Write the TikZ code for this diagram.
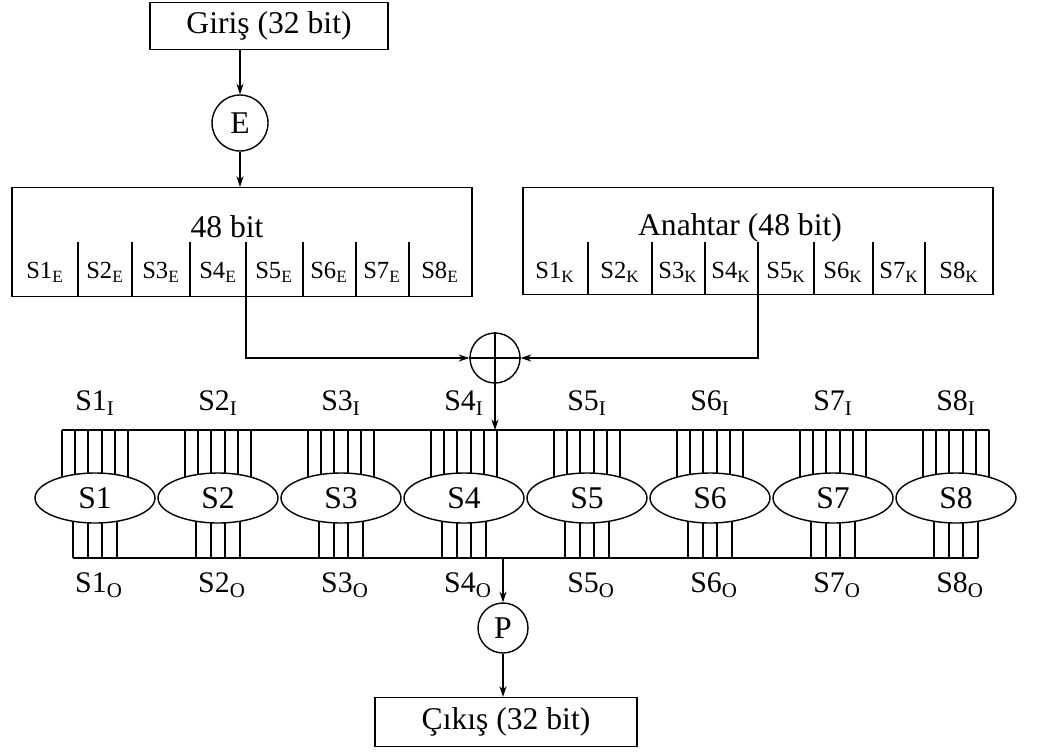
\documentclass[tikz,border=0pt]{standalone}
\usepackage{fontspec}
\setmainfont{Liberation Serif}
\usetikzlibrary{shapes.geometric, arrows.meta, positioning, calc}
\newcommand{\subtxt}[1]{\textsubscript{#1}}

\begin{document}
\begin{tikzpicture}[
    x=0.02cm, y=-0.02cm,
    every node/.style={font=\fontsize{18}{20}\selectfont},
    box/.style={rectangle, draw, thick, inner sep=0pt},
    ringnode/.style={circle, draw, thick, inner sep=0pt, minimum size=1.0cm},
    sbox/.style={ellipse, draw, thick, fill=white, inner sep=0pt,
                 minimum width=2.4cm, minimum height=1.0cm},
    small/.style={font=\fontsize{14}{16}\selectfont},
    mid/.style={font=\fontsize{17}{19}\selectfont},
    arr/.style={-{Stealth[length=6pt, width=4pt]}, thick},
]
    \useasboundingbox (0,0) rectangle (1043,751);

    % Input and expansion
    \node[box, minimum width=4.76cm, minimum height=0.94cm] (giris) at (269,26) {Giriş (32 bit)};
    \node[ringnode, minimum size=1.12cm] (e) at (240,123) {E};

    % 48 bit blocks
    \node[box, minimum width=9.2cm, minimum height=2.18cm] (bit48) at (242,242) {};
    \node (bit48t) at (227,227) {48 bit};
    \node[box, minimum width=9.4cm, minimum height=2.14cm] (key) at (758,241) {};
    \node (keyt) at (740,228) {Anahtar (48 bit)};

    % dividers
    \foreach \x in {78,132,190,246,303,356,409}
        \draw[thick] (\x,242) -- (\x,0 |- bit48.south);
    \foreach \x in {588,652,705,758,814,873,925}
        \draw[thick] (\x,242) -- (\x,0 |- key.south);

    % cell labels
    \foreach \x [count=\i] in {45,105,161,218,274,329,382,440}
        \node[small] (ce\i) at (\x,272) {S\i\subtxt{E}};
    \foreach \x [count=\i] in {555,620,678,731,786,843,899,959}
        \node[small] (ck\i) at (\x,272) {S\i\subtxt{K}};

    \coordinate (ltap) at (246,0 |- bit48.south);
    \coordinate (rtap) at (758,0 |- key.south);

    % XOR
    \node[ringnode] (xor) at (495,358) {};
    \draw[thick] (xor.west) -- (xor.east);
    \draw[thick] (xor.north) -- (xor.south);

    % buses
    \coordinate (topbus) at (62,430);
    \coordinate (topend) at (989,430);
    \coordinate (botbus) at (73,558);
    \coordinate (botend) at (978,558);
    \draw[thick] (topbus) -- (topend);
    \draw[thick] (botbus) -- (botend);

    % S-boxes
    \foreach \i in {1,...,8} {
        \pgfmathsetmacro\cx{95+123*(\i-1)}
        \foreach \d in {-33,-20,-7,7,20,33}
            \draw[thick] (\cx+\d,430) -- (\cx+\d,498);
        \foreach \d in {-22,-7,7,22}
            \draw[thick] (\cx+\d,558) -- (\cx+\d,498);
        \node[sbox] (s\i) at (\cx,498) {S\i};
        \node[mid] (si\i) at (\cx,403) {S\i\subtxt{I}};
        \node[mid] (so\i) at (\cx+4,585) {S\i\subtxt{O}};
    }

    % Permutation and output
    \node[ringnode] (p) at (503,628) {P};
    \node[box, minimum width=5.24cm, minimum height=0.98cm] (cikis) at (506,722) {Çıkış (32 bit)};

    % Arrows
    \draw[arr] (giris.south -| e) -- (e);
    \draw[arr] (e) -- (e |- bit48.north);
    \draw[arr] (ltap) |- (xor.west);
    \draw[arr] (rtap) |- (xor.east);
    \draw[arr] (xor.south) -- (xor |- topbus);
    \draw[arr] (p |- botbus) -- (p);
    \draw[arr] (p) -- (p |- cikis.north);
\end{tikzpicture}
\end{document}
